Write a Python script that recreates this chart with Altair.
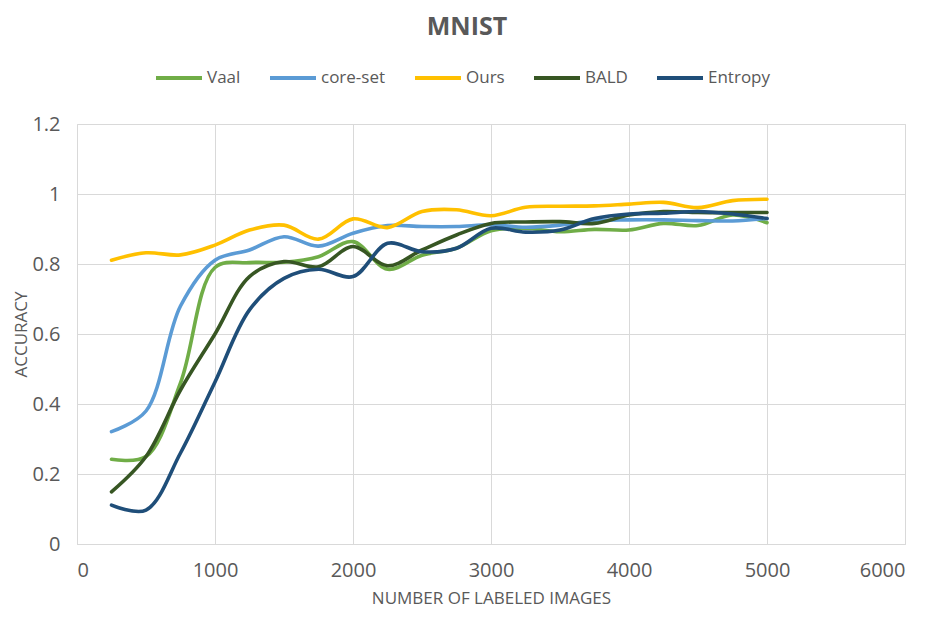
import altair as alt
import pandas as pd

labeled = [250, 500, 750, 1000, 1250, 1500, 1750, 2000, 2250, 2500,
           2750, 3000, 3250, 3500, 3750, 4000, 4250, 4500, 4750, 5000]

vaal = [0.242, 0.25, 0.46, 0.79, 0.804, 0.805, 0.821, 0.864, 0.785, 0.825,
        0.845, 0.895, 0.902, 0.892, 0.899, 0.897, 0.916, 0.91, 0.94, 0.918]
core_set = [0.321, 0.38, 0.68, 0.811, 0.84, 0.878, 0.851, 0.888, 0.91, 0.907,
            0.907, 0.912, 0.905, 0.911, 0.924, 0.926, 0.926, 0.924, 0.923, 0.93]
ours = [0.811, 0.832, 0.826, 0.854, 0.897, 0.911, 0.871, 0.929, 0.904, 0.95,
        0.955, 0.938, 0.962, 0.965, 0.966, 0.971, 0.976, 0.961, 0.981, 0.985]
bald = [0.149, 0.25, 0.44, 0.6, 0.764, 0.807, 0.792, 0.85, 0.795, 0.84,
        0.883, 0.916, 0.92, 0.921, 0.916, 0.94, 0.95, 0.947, 0.947, 0.947]
entropy = [0.111, 0.097, 0.26, 0.463, 0.669, 0.759, 0.785, 0.764, 0.859, 0.835,
           0.845, 0.902, 0.891, 0.897, 0.93, 0.943, 0.945, 0.95, 0.943, 0.93]

series_names = ["Vaal", "core-set", "Ours", "BALD", "Entropy"]
series_values = [vaal, core_set, ours, bald, entropy]
series_colors = ["#70ad47", "#5b9bd5", "#ffc000", "#375623", "#1f4e79"]

x_ticks = [0, 1000, 2000, 3000, 4000, 5000, 6000]
y_ticks = [0, 0.2, 0.4, 0.6, 0.8, 1.0, 1.2]

rows = []
for i, (name, vals) in enumerate(zip(series_names, series_values)):
    for x, v in zip(labeled, vals):
        rows.append({"images": x, "accuracy": v, "method": name, "order": i})
df = pd.DataFrame(rows)

FONT = "Open Sans"
GRAY = "#595959"

chart = alt.Chart(df).mark_line(
    interpolate="catmull-rom", strokeWidth=3.6, strokeCap="round"
).encode(
    x=alt.X("images:Q",
            scale=alt.Scale(domain=[0, 6000], nice=False),
            axis=alt.Axis(values=x_ticks, format="d", title="NUMBER OF LABELED IMAGES",
                          grid=True, gridColor="#d9d9d9", gridWidth=1,
                          domainColor="#d9d9d9", ticks=False,
                          labelFontSize=20, labelColor=GRAY, labelFont=FONT,
                          labelPadding=16, titleFont=FONT, titleFontSize=17,
                          titleFontWeight="normal", titleColor=GRAY,
                          titlePadding=10)),
    y=alt.Y("accuracy:Q",
            scale=alt.Scale(domain=[0, 1.2], nice=False),
            axis=alt.Axis(values=y_ticks, format="~g", title="ACCURACY",
                          grid=True, gridColor="#d9d9d9", gridWidth=1,
                          domain=False, ticks=False,
                          labelFontSize=20, labelColor=GRAY, labelFont=FONT,
                          labelPadding=17, titleFont=FONT, titleFontSize=17,
                          titleFontWeight="normal", titleColor=GRAY,
                          titlePadding=1)),
    color=alt.Color("method:N",
                    scale=alt.Scale(domain=series_names, range=series_colors),
                    sort=series_names,
                    legend=alt.Legend(title=None, orient="none", direction="horizontal",
                                      legendX=77, legendY=-71,
                                      symbolType="stroke", symbolSize=2116,
                                      symbolStrokeWidth=4, labelFontSize=17,
                                      labelFont=FONT, labelColor=GRAY,
                                      labelOffset=3, columnPadding=21)),
    order=alt.Order("order:Q"),
    detail="method:N",
).properties(
    width=828,
    height=420,
    title=alt.TitleParams("MNIST", fontSize=25, fontWeight="bold", color=GRAY,
                          font=FONT, anchor="middle", dx=-24, offset=13),
    autosize=alt.AutoSizeParams(type="none"),
    padding={"left": 69, "top": 116, "right": 22, "bottom": 65},
).configure_view(stroke=None).configure(background="white")

chart.save("out.html", embed_options={"renderer": "svg", "actions": False})
